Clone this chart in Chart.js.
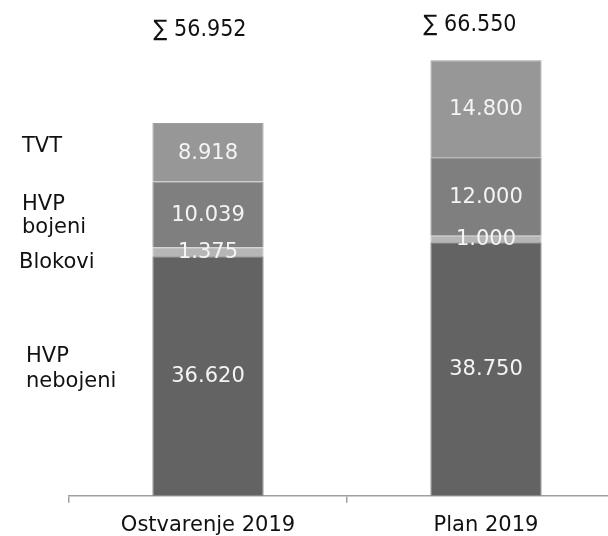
<!DOCTYPE html>
<html>
<head>
<meta charset="utf-8">
<script src="https://cdn.jsdelivr.net/npm/chart.js@4"></script>
<style>
  html, body { margin: 0; padding: 0; overflow: hidden; background: #fff; }
  #wrap { width: 640px; height: 548px; position: relative; }
</style>
</head>
<body>
<div id="wrap"><canvas id="chart"></canvas></div>
<script>
const categories = ['Ostvarenje 2019', 'Plan 2019'];
const hvpNebojeni = [36620, 38750];
const blokovi = [1375, 1000];
const hvpBojeni = [10039, 12000];
const tvt = [8918, 14800];
const totals = [56952, 66550];

const fmt = v => v.toLocaleString('de-DE', { minimumFractionDigits: 0 }).replace(/,/g, '.');

// value labels inside segments, sums on top, series names on the left
const labelPlugin = {
    id: 'labels',
    afterDatasetsDraw(chart) {
        const ctx = chart.ctx;
        ctx.save();
        ctx.textAlign = 'center';
        ctx.textBaseline = 'middle';
        ctx.font = '21px "DejaVu Sans"';
        ctx.fillStyle = '#f4f4f4';
        chart.data.datasets.forEach((ds, di) => {
            chart.getDatasetMeta(di).data.forEach((bar, i) => {
                ctx.fillText(fmt(ds.data[i]), bar.x, (bar.y + bar.base) / 2 + 1);
            });
        });

        const xs = chart.scales.x;
        ctx.fillStyle = '#111';
        ctx.textBaseline = 'alphabetic';
        ctx.font = '23px "DejaVu Sans Condensed", "Liberation Sans", sans-serif';
        ctx.fillText('\u2211 ' + fmt(totals[0]), xs.getPixelForValue(0) - 8, 36);
        ctx.fillText('\u2211 ' + fmt(totals[1]), xs.getPixelForValue(1) - 16, 31);

        ctx.textAlign = 'left';
        ctx.font = '21px "DejaVu Sans"';
        ctx.fillText('TVT', 22, 152);
        ctx.fillText('HVP', 22, 210);
        ctx.fillText('bojeni', 22, 233);
        ctx.fillText('Blokovi', 19, 268);
        ctx.fillText('HVP', 26, 362);
        ctx.fillText('nebojeni', 26, 387);
        ctx.restore();
    }
};

const ctx = document.getElementById('chart').getContext('2d');
const chart = new Chart(ctx, {
    type: 'bar',
    data: {
        labels: categories,
        datasets: [
            { label: 'HVP nebojeni', data: hvpNebojeni, backgroundColor: '#636363', borderColor: '#6c6c6c' },
            { label: 'Blokovi', data: blokovi, backgroundColor: '#b6b6b6', borderColor: '#bcbcbc' },
            { label: 'HVP bojeni', data: hvpBojeni, backgroundColor: '#7f7f7f', borderColor: '#888888' },
            { label: 'TVT', data: tvt, backgroundColor: '#979797', borderColor: '#a0a0a0' }
        ].map(d => Object.assign(d, {
            borderWidth: 1,
            barPercentage: 0.4,
            categoryPercentage: 1
        }))
    },
    options: {
        responsive: true,
        maintainAspectRatio: false,
        animation: false,
        layout: { padding: { left: 69, right: 15, top: 5, bottom: 0 } },
        plugins: {
            legend: { display: false },
            tooltip: { enabled: false }
        },
        scales: {
            x: {
                stacked: true,
                border: { color: '#a0a0a0', width: 1.5 },
                grid: {
                    drawOnChartArea: false,
                    drawTicks: true,
                    tickLength: 7,
                    color: '#a0a0a0',
                    lineWidth: 1.5
                },
                ticks: {
                    color: '#111',
                    padding: 10,
                    font: { family: 'DejaVu Sans', size: 21 }
                }
            },
            y: {
                stacked: true,
                display: false,
                min: 0,
                max: 75000
            }
        }
    },
    plugins: [labelPlugin]
});
</script>
</body>
</html>
